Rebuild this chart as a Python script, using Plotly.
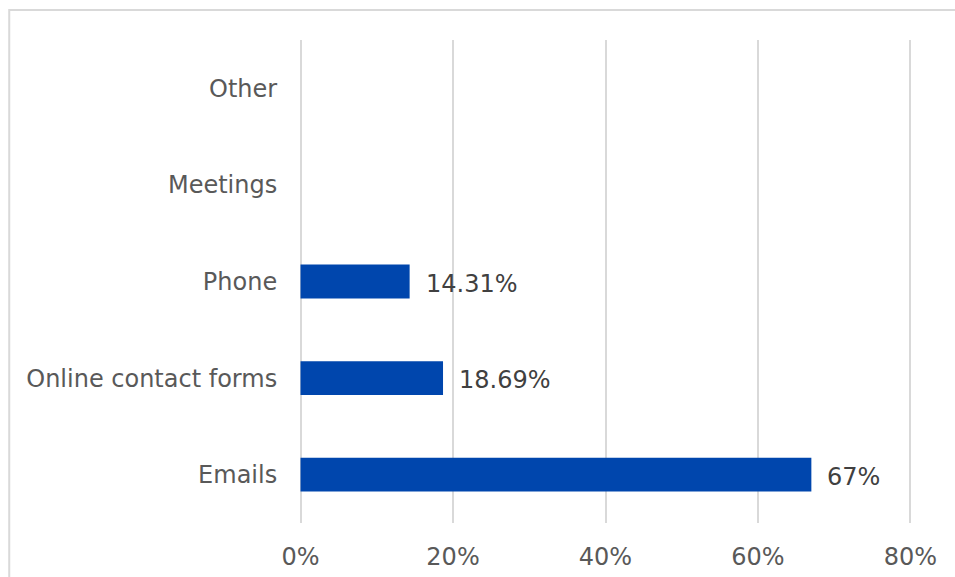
import plotly.graph_objects as go

categories = ["Emails", "Online contact forms", "Phone", "Meetings", "Other"]
values = [67, 18.69, 14.31, 0, 0]
value_labels = ["67%", "18.69%", "14.31%", "", ""]
tick_vals = [0, 20, 40, 60, 80]
tick_text = ["0%", "20%", "40%", "60%", "80%"]

FONT = "DejaVu Sans"
fig = go.Figure()
fig.add_trace(go.Bar(
    y=categories, x=values, orientation="h",
    marker=dict(color="#0046AD", line=dict(width=0)),
    width=0.35, hoverinfo="skip",
))
for c, v, lab in zip(categories, values, value_labels):
    if lab:
        fig.add_annotation(x=v, y=c, text=lab, showarrow=False, xanchor="left",
                           xshift=14, yshift=-2,
                           font=dict(family=FONT, size=24, color="#404040"))

L, R, T, B = 299, 42.5, 40, 54
fig.update_layout(
    width=955, height=577,
    margin=dict(l=L, r=R, t=T, b=B),
    paper_bgcolor="white", plot_bgcolor="white",
    showlegend=False,
    font=dict(family=FONT, size=24, color="#595959"),
    xaxis=dict(range=[-0.2, 80.2], tickvals=tick_vals, ticktext=tick_text,
               showgrid=True, gridcolor="#d9d9d9", gridwidth=1.5,
               zeroline=False, showline=False, automargin=False,
               ticks="outside", ticklen=12, tickcolor="rgba(0,0,0,0)"),
    yaxis=dict(categoryorder="array", categoryarray=categories,
               showgrid=False, zeroline=False, showline=False, automargin=False,
               ticks="outside", ticklen=16, tickcolor="rgba(0,0,0,0)"),
    shapes=[dict(type="rect", xref="paper", yref="paper",
                 x0=(9 - L) / (955 - L - R), x1=1.2,
                 y0=-0.3, y1=(577 - 10 - B) / (577 - T - B),
                 line=dict(color="#d9d9d9", width=2), fillcolor="rgba(0,0,0,0)",
                 layer="below")],
)
fig.write_html("out.html")
